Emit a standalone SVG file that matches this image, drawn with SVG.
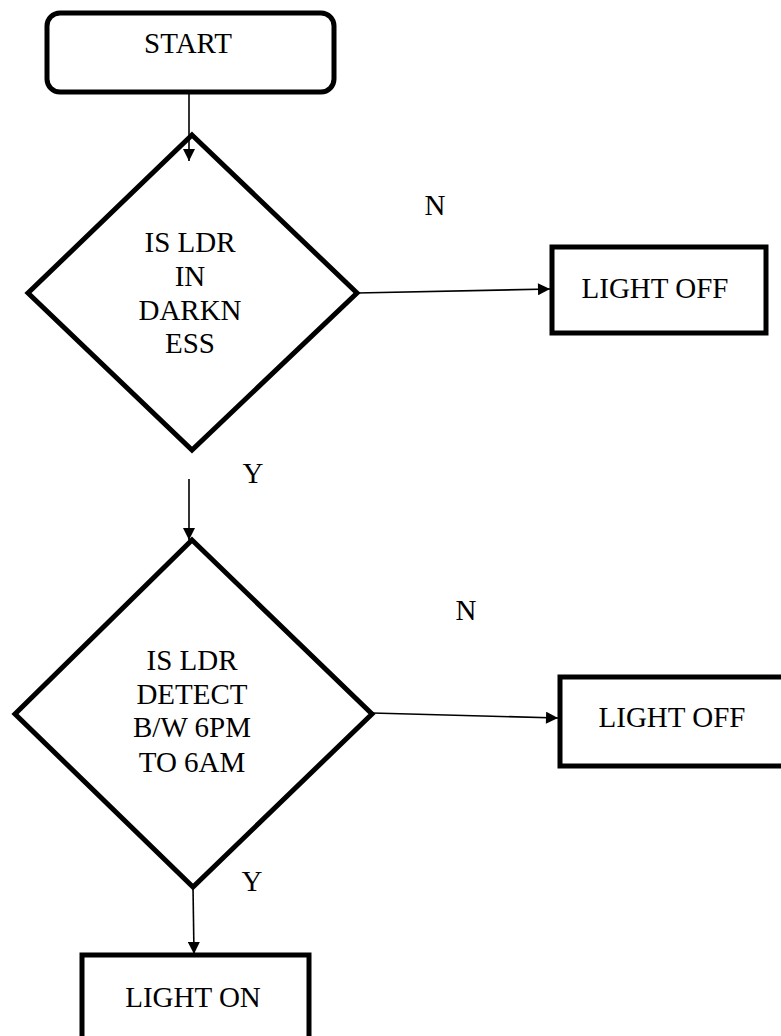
<svg xmlns="http://www.w3.org/2000/svg" width="781" height="1036" viewBox="0 0 781 1036">
<defs>
<style>
.shape{fill:#fff;stroke:#000;stroke-width:5;stroke-linejoin:miter}
.conn{fill:none;stroke:#000;stroke-width:1.6}
.t{font-family:'Liberation Serif','Times New Roman','DejaVu Serif',serif;font-size:29px;fill:#000;text-anchor:middle}
</style>
<marker id="arr" viewBox="0 0 10 10" refX="10" refY="5" markerWidth="13" markerHeight="12" markerUnits="userSpaceOnUse" orient="auto">
<path d="M0,0 L10,5 L0,10 z" fill="#000"/>
</marker>
</defs>
<rect width="781" height="1036" fill="#fff"/>
<g id="start">
<rect class="shape" x="47" y="13" width="287" height="79" rx="13" ry="13"/>
<text class="t" x="188" y="53">START</text>
</g>
<g id="dec1">
<polygon class="shape" points="192,135 357,293 192,450 28,293"/>
<text class="t" x="190" y="252">IS LDR</text>
<text class="t" x="190" y="286">IN</text>
<text class="t" x="190" y="320">DARKN</text>
<text class="t" x="190" y="353">ESS</text>
</g>
<g id="off1">
<rect class="shape" x="552" y="247" width="214" height="86"/>
<text class="t" x="655" y="298">LIGHT OFF</text>
</g>
<g id="dec2">
<polygon class="shape" points="192,540 372,714 193,887 15,714"/>
<text class="t" x="192" y="670">IS LDR</text>
<text class="t" x="192" y="704">DETECT</text>
<text class="t" x="192" y="737">B/W 6PM</text>
<text class="t" x="192" y="772">TO 6AM</text>
</g>
<g id="off2">
<rect class="shape" x="560" y="677" width="240" height="89"/>
<text class="t" x="672" y="727">LIGHT OFF</text>
</g>
<g id="on">
<rect class="shape" x="82" y="955" width="227" height="100"/>
<text class="t" x="193" y="1007">LIGHT ON</text>
</g>
<g id="connectors">
<line class="conn" x1="189" y1="92" x2="189" y2="161" marker-end="url(#arr)"/>
<line class="conn" x1="357" y1="293" x2="550" y2="289" marker-end="url(#arr)"/>
<line class="conn" x1="189" y1="479" x2="189" y2="540" marker-end="url(#arr)"/>
<line class="conn" x1="372" y1="713" x2="558" y2="718" marker-end="url(#arr)"/>
<line class="conn" x1="193" y1="887" x2="194" y2="954" marker-end="url(#arr)"/>
</g>
<g id="labels">
<text class="t" x="435" y="215">N</text>
<text class="t" x="253" y="483">Y</text>
<text class="t" x="466" y="620">N</text>
<text class="t" x="252" y="891">Y</text>
</g>
</svg>
